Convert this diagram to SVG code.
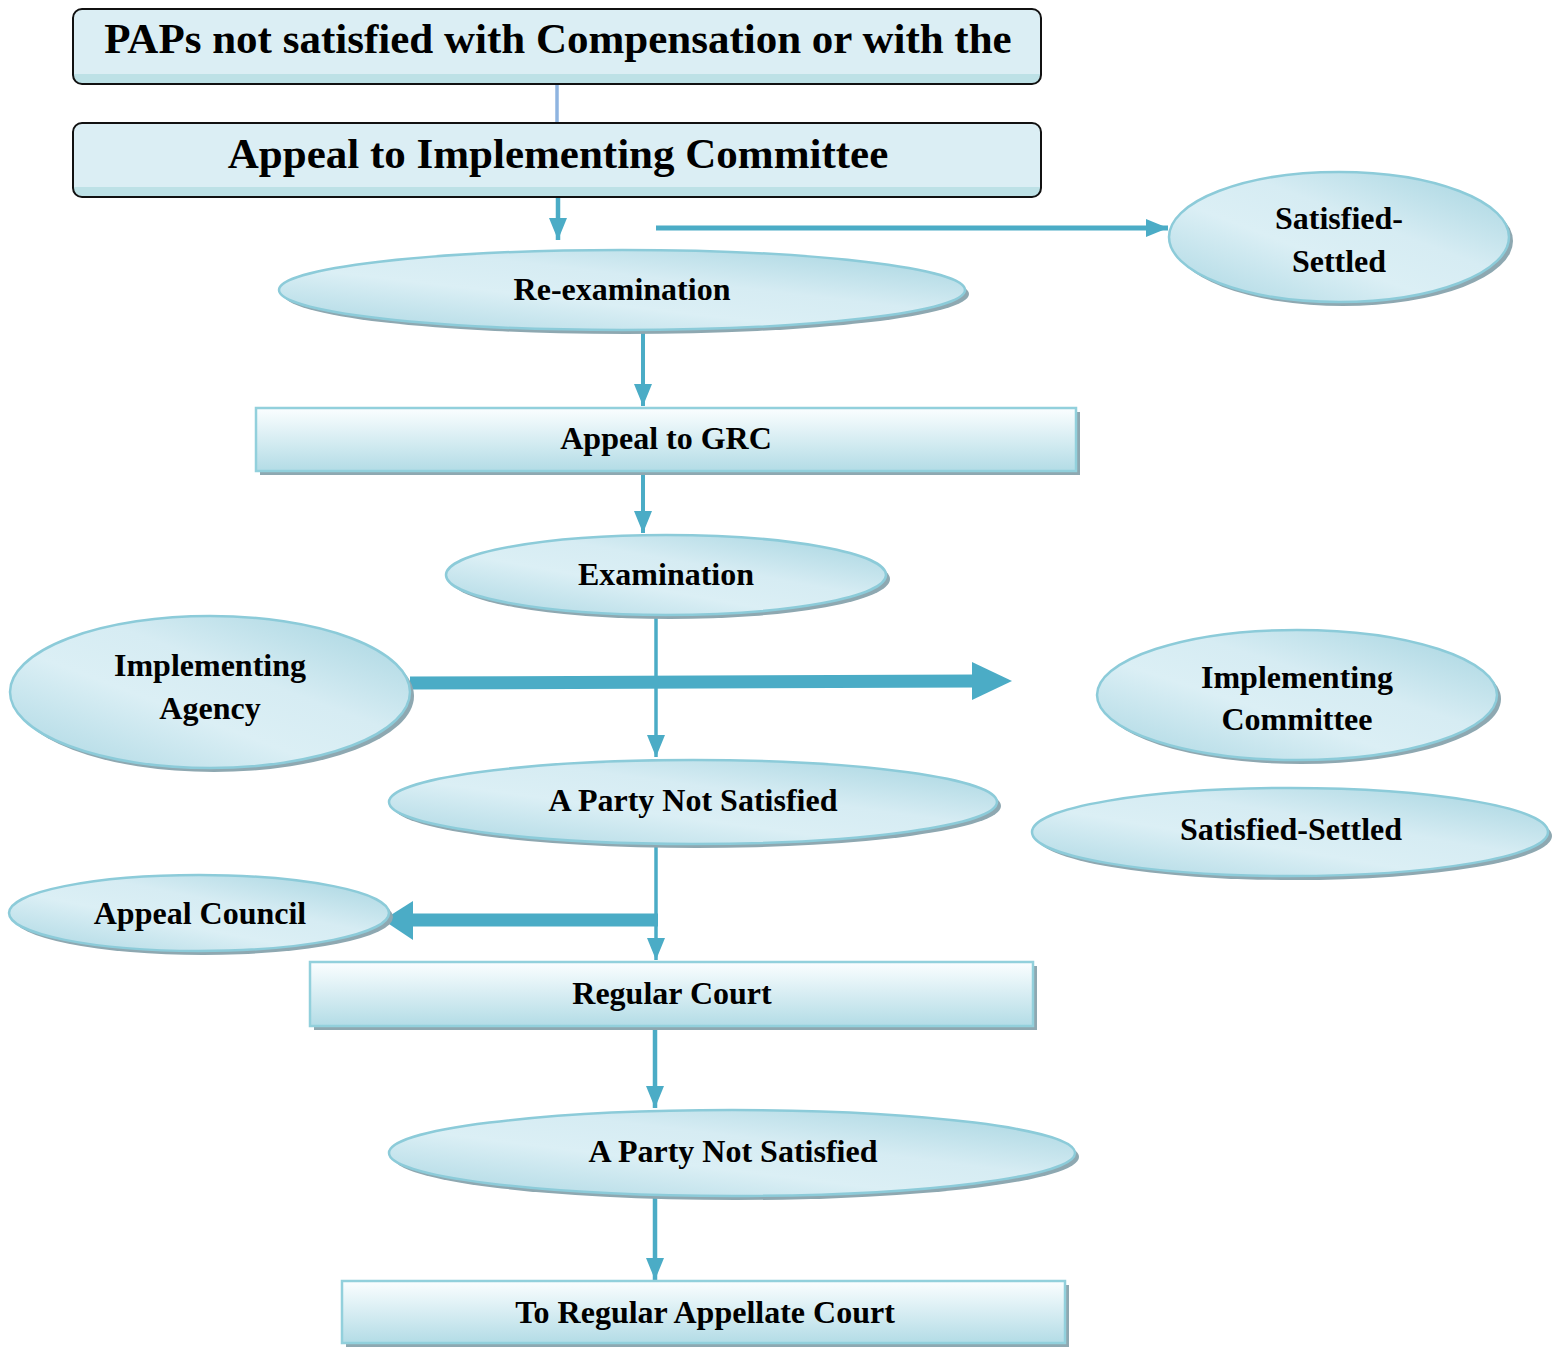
<svg xmlns="http://www.w3.org/2000/svg" width="1561" height="1347" viewBox="0 0 1561 1347">
<defs>
<linearGradient id="eg" x1="0" y1="1" x2="1" y2="0">
<stop offset="0" stop-color="#a9d6e2"/>
<stop offset="0.4" stop-color="#dbeff5"/>
<stop offset="0.6" stop-color="#d6ecf3"/>
<stop offset="1" stop-color="#a3d3df"/>
</linearGradient>
<linearGradient id="rg" x1="0" y1="0" x2="0" y2="1">
<stop offset="0" stop-color="#fbfeff"/>
<stop offset="1" stop-color="#b3dce6"/>
</linearGradient>
<linearGradient id="tg" x1="0" y1="0" x2="0" y2="1">
<stop offset="0" stop-color="#dbeef4"/>
<stop offset="0.86" stop-color="#dbeef4"/>
<stop offset="0.87" stop-color="#bde1e6"/>
<stop offset="1" stop-color="#bde1e6"/>
</linearGradient>
<marker id="ah" markerUnits="userSpaceOnUse" markerWidth="22" markerHeight="22" viewBox="0 0 22 22" refX="22" refY="11" orient="auto">
<path d="M0,2 L22,11 L0,20 Z" fill="#4bacc6"/>
</marker>
</defs>
<style>
.t{font-family:"Liberation Serif","Times New Roman",serif;font-weight:bold;fill:#000;text-anchor:middle}
.tb{font-size:43px}
.ts{font-size:32px}
.el{fill:url(#eg);stroke:#8ccbd9;stroke-width:2.5}
.sh{fill:#8ea8b1}
.rc{fill:url(#rg);stroke:#92d0dc;stroke-width:2.5}
.tp{fill:url(#tg);stroke:#111;stroke-width:2}
.c{stroke:#4bacc6;fill:none}
</style>
<g id="connectors">
<line x1="557" y1="84" x2="557" y2="123" stroke="#8fb4e0" stroke-width="3.5"/>
<line class="c" x1="558" y1="197" x2="558" y2="240" stroke-width="4.5" marker-end="url(#ah)"/>
<line class="c" x1="656" y1="228" x2="1168" y2="228" stroke-width="5" marker-end="url(#ah)"/>
<line class="c" x1="643" y1="332" x2="643" y2="406" stroke-width="4" marker-end="url(#ah)"/>
<line class="c" x1="643" y1="471" x2="643" y2="533" stroke-width="4" marker-end="url(#ah)"/>
<line class="c" x1="410" y1="683" x2="975" y2="681" stroke-width="13"/>
<path d="M972,662 L1012,681 L972,700 Z" fill="#4bacc6"/>
<line class="c" x1="656" y1="617" x2="656" y2="757" stroke-width="3.5" marker-end="url(#ah)"/>
<line class="c" x1="656" y1="845" x2="656" y2="960" stroke-width="3.5" marker-end="url(#ah)"/>
<line class="c" x1="658" y1="920" x2="410" y2="920" stroke-width="13"/>
<path d="M413,901 L383,920 L413,940 Z" fill="#4bacc6"/>
<line class="c" x1="655" y1="1026" x2="655" y2="1108" stroke-width="4.5" marker-end="url(#ah)"/>
<line class="c" x1="655" y1="1197" x2="655" y2="1280" stroke-width="4.5" marker-end="url(#ah)"/>
</g>
<g id="n1">
<rect class="tp" x="73" y="9" width="968" height="75" rx="9"/>
<text class="t tb" x="558" y="53">PAPs not satisfied with Compensation or with the</text>
</g>
<g id="n2">
<rect class="tp" x="73" y="123" width="968" height="74" rx="9"/>
<text class="t tb" x="558" y="168">Appeal to Implementing Committee</text>
</g>
<g id="n3">
<ellipse class="sh" cx="626" cy="294" rx="343" ry="40"/>
<ellipse class="el" cx="622" cy="290" rx="343" ry="40"/>
<text class="t ts" x="622" y="300">Re-examination</text>
</g>
<g id="n4">
<ellipse class="sh" cx="1343" cy="241" rx="170" ry="65"/>
<ellipse class="el" cx="1339" cy="237" rx="170" ry="65"/>
<text class="t ts" x="1339" y="229">Satisfied-</text>
<text class="t ts" x="1339" y="272">Settled</text>
</g>
<g id="n5">
<rect class="sh" x="260" y="412" width="820" height="63"/>
<rect class="rc" x="256" y="408" width="820" height="63"/>
<text class="t ts" x="666" y="449">Appeal to GRC</text>
</g>
<g id="n6">
<ellipse class="sh" cx="670" cy="579" rx="220" ry="40"/>
<ellipse class="el" cx="666" cy="575" rx="220" ry="40"/>
<text class="t ts" x="666" y="585">Examination</text>
</g>
<g id="n7">
<ellipse class="sh" cx="214" cy="696" rx="200" ry="76"/>
<ellipse class="el" cx="210" cy="692" rx="200" ry="76"/>
<text class="t ts" x="210" y="676">Implementing</text>
<text class="t ts" x="210" y="719">Agency</text>
</g>
<g id="n8">
<ellipse class="sh" cx="1301" cy="699" rx="200" ry="65"/>
<ellipse class="el" cx="1297" cy="695" rx="200" ry="65"/>
<text class="t ts" x="1297" y="688">Implementing</text>
<text class="t ts" x="1297" y="730">Committee</text>
</g>
<g id="n9">
<ellipse class="sh" cx="697" cy="806" rx="304" ry="42"/>
<ellipse class="el" cx="693" cy="802" rx="304" ry="42"/>
<text class="t ts" x="693" y="811">A Party Not Satisfied</text>
</g>
<g id="n10">
<ellipse class="sh" cx="1294" cy="836" rx="258" ry="44"/>
<ellipse class="el" cx="1290" cy="832" rx="258" ry="44"/>
<text class="t ts" x="1291" y="840">Satisfied-Settled</text>
</g>
<g id="n11">
<ellipse class="sh" cx="203" cy="917" rx="190" ry="38"/>
<ellipse class="el" cx="199" cy="913" rx="190" ry="38"/>
<text class="t ts" x="200" y="924">Appeal Council</text>
</g>
<g id="n12">
<rect class="sh" x="314" y="966" width="723" height="64"/>
<rect class="rc" x="310" y="962" width="723" height="64"/>
<text class="t ts" x="672" y="1004">Regular Court</text>
</g>
<g id="n13">
<ellipse class="sh" cx="736" cy="1157" rx="343" ry="43"/>
<ellipse class="el" cx="732" cy="1153" rx="343" ry="43"/>
<text class="t ts" x="733" y="1162">A Party Not Satisfied</text>
</g>
<g id="n14">
<rect class="sh" x="346" y="1285" width="723" height="62"/>
<rect class="rc" x="342" y="1281" width="723" height="62"/>
<text class="t ts" x="705" y="1323">To Regular Appellate Court</text>
</g>
</svg>
